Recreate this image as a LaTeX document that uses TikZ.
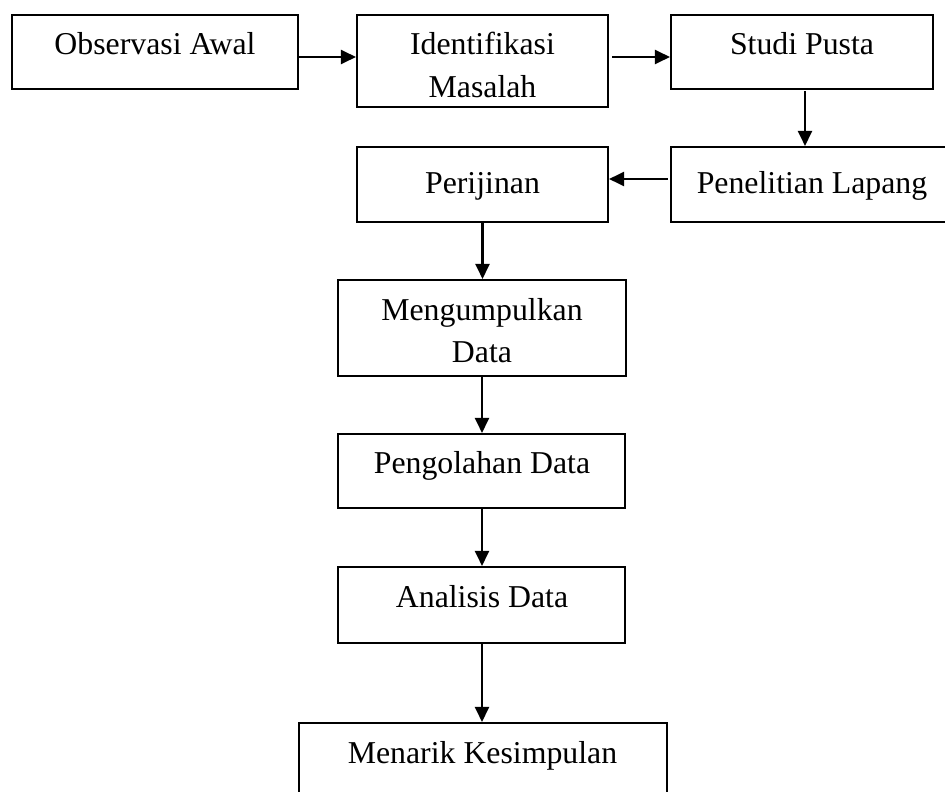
\documentclass[tikz,border=0pt]{standalone}
\usepackage{fontspec}
\setmainfont{Liberation Serif}
\usetikzlibrary{arrows.meta,calc}
\begin{document}
\begin{tikzpicture}[x=1pt,y=-1pt,
  box/.style={draw,line width=2.1pt,inner sep=0pt},
  txt/.style={font=\fontsize{31.8}{42}\selectfont,anchor=base,inner sep=0pt},
  arr/.style={line width=2.3pt,-{Triangle[length=15pt,width=14pt]}}]
\useasboundingbox (0,0) rectangle (945,792);
% boxes
\node[box,minimum width=286pt,minimum height=74pt] (obs) at (155,52) {};
\node[box,minimum width=251pt,minimum height=92pt] (idn) at (482.5,61) {};
\node[box,minimum width=262pt,minimum height=74pt] (stu) at (802,52) {};
\node[box,minimum width=281pt,minimum height=75pt] (pen) at (811.5,184.5) {};
\node[box,minimum width=251pt,minimum height=75pt] (per) at (482.5,184.5) {};
\node[box,minimum width=288pt,minimum height=96pt] (men) at (482,328) {};
\node[box,minimum width=287pt,minimum height=74pt] (pgl) at (481.5,471) {};
\node[box,minimum width=287pt,minimum height=76pt] (ana) at (481.5,605) {};
\node[box,minimum width=368pt,minimum height=90pt] (mkm) at (483,768) {};
% texts
\node[txt] (tobs) at (155,55) {Observasi Awal};
\node[txt] (tidn1) at (482.5,55) {Identifikasi};
\node[txt] (tidn2) at (482.5,97) {Masalah};
\node[txt] (tstu) at (802,55) {Studi Pusta};
\node[txt] (tpen) at (812,193) {Penelitian Lapang};
\node[txt] (tper) at (482.5,193) {Perijinan};
\node[txt] (tmen1) at (482,320) {Mengumpulkan};
\node[txt] (tmen2) at (482,362) {Data};
\node[txt] (tpgl) at (482,473) {Pengolahan Data};
\node[txt] (tana) at (482,607) {Analisis Data};
\node[txt] (tmkm) at (482.5,763) {Menarik Kesimpulan};
% helper levels
\coordinate (r1) at (0,57);
\coordinate (r2) at (0,179);
\coordinate (v1) at (805,0);
% connectors
\draw[arr] (obs.east |- r1) -- (idn.west |- r1);
\draw[arr] ([xshift=3pt]idn.east |- r1) -- (stu.west |- r1);
\draw[arr] ([yshift=-1pt]stu.south -| v1) -- (pen.north -| v1);
\draw[arr] ([xshift=-2pt]pen.west |- r2) -- (per.east |- r2);
\draw[arr] (per.south) -- (men.north -| per.south);
\draw[arr] (men.south) -- (pgl.north -| men.south);
\draw[arr] (pgl.south -| men.south) -- (ana.north -| men.south);
\draw[arr] (ana.south -| men.south) -- (mkm.north -| men.south);
\end{tikzpicture}
\end{document}
